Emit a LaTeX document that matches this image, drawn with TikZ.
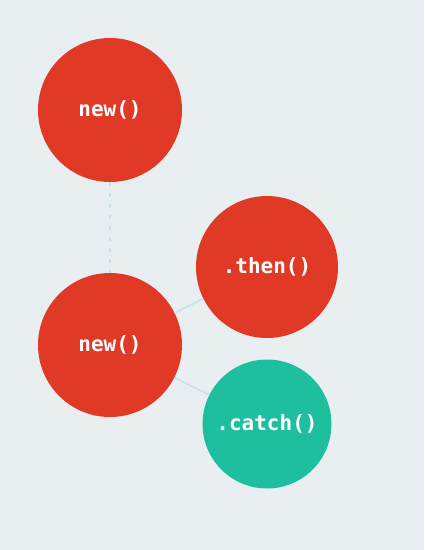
\documentclass[tikz,border=0pt]{standalone}
\usepackage{fontspec}
\newfontfamily\codefont{DejaVu Sans Mono}
\usetikzlibrary{positioning}
\definecolor{bgcol}{HTML}{E9EEF0}
\definecolor{newred}{HTML}{E03A26}
\definecolor{catchgreen}{HTML}{1EBF9F}
\definecolor{linkblue}{HTML}{C6E0E5}

\tikzset{
  call/.style={circle, fill=newred, text=white, minimum size=144pt, inner sep=0pt,
    font=\codefont\bfseries\fontsize{21}{21}\selectfont},
  link/.style={draw=linkblue, line width=1.5pt},
}

\begin{document}
\begin{tikzpicture}[x=1pt,y=1pt]
    % Background
    \fill[bgcol] (0,0) rectangle (424,-550);
    % Calls
    \node[call] (newA) at (110,-110) {new()};
    \node[call] (newB) at (110,-345) {new()};
    \node[call, minimum size=142pt] (then) at (267,-267) {.then()};
    \node[call, fill=catchgreen, minimum size=129pt] (catch) at (267,-424) {.catch()};
    % Links
    \draw[link, line width=2.5pt, dash pattern=on 4pt off 7pt] (newA) -- (newB);
    \draw[link] (newB) -- (then);
    \draw[link] (newB) -- (catch);
\end{tikzpicture}
\end{document}
